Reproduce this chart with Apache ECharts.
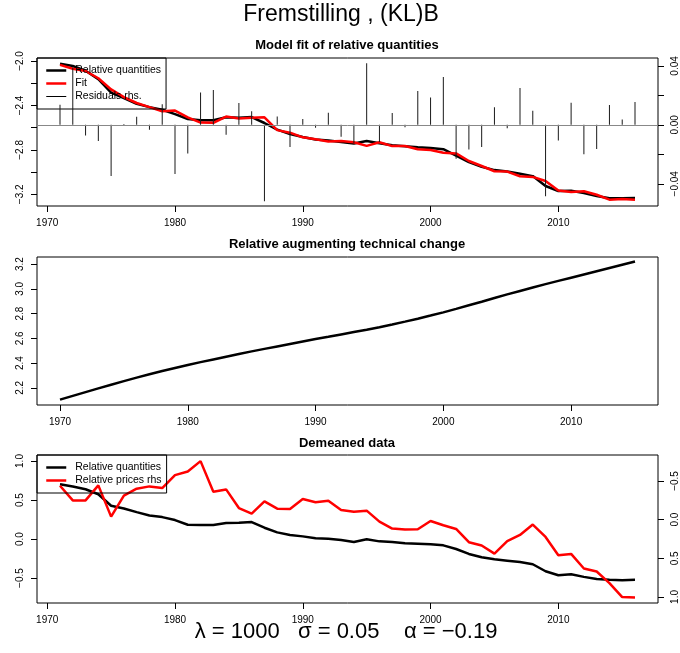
<!DOCTYPE html>
<html><head><meta charset="utf-8">
<script src="https://cdn.jsdelivr.net/npm/echarts@6/dist/echarts.min.js"></script>
<style>html,body{margin:0;padding:0;background:#fff}#c{width:680px;height:653px}</style>
</head><body><div id="c"></div>
<script>
const years = [1971,1972,1973,1974,1975,1976,1977,1978,1979,1980,1981,1982,1983,1984,1985,1986,1987,1988,1989,1990,1991,1992,1993,1994,1995,1996,1997,1998,1999,2000,2001,2002,2003,2004,2005,2006,2007,2008,2009,2010,2011,2012,2013,2014,2015,2016];
const relQty = [-2.024,-2.045,-2.087,-2.164,-2.284,-2.334,-2.385,-2.415,-2.439,-2.478,-2.522,-2.534,-2.534,-2.507,-2.510,-2.505,-2.558,-2.618,-2.657,-2.684,-2.707,-2.716,-2.728,-2.743,-2.720,-2.740,-2.758,-2.767,-2.776,-2.782,-2.794,-2.851,-2.910,-2.952,-2.982,-2.994,-3.015,-3.036,-3.125,-3.170,-3.167,-3.188,-3.215,-3.236,-3.236,-3.233];
const fitQty = [-2.035,-2.070,-2.090,-2.155,-2.255,-2.325,-2.378,-2.415,-2.452,-2.446,-2.508,-2.554,-2.556,-2.500,-2.518,-2.510,-2.507,-2.622,-2.645,-2.687,-2.705,-2.724,-2.720,-2.731,-2.764,-2.731,-2.766,-2.765,-2.795,-2.801,-2.825,-2.832,-2.900,-2.945,-2.992,-2.995,-3.037,-3.043,-3.080,-3.165,-3.180,-3.172,-3.204,-3.248,-3.243,-3.248];
const residuals = [0.0136,0.0390,-0.0073,-0.0110,-0.0348,0.0005,0.0055,-0.0034,0.0140,-0.0334,-0.0195,0.0220,0.0236,-0.0068,0.0148,0.0093,-0.0518,0.0057,-0.0150,0.0039,-0.0020,0.0082,-0.0080,-0.0123,0.0418,-0.0116,0.0080,-0.0016,0.0230,0.0186,0.0325,-0.0230,-0.0168,-0.0150,0.0120,-0.0023,0.0250,0.0095,-0.0484,-0.0107,0.0150,-0.0200,-0.0164,0.0134,0.0036,0.0155];
const techYears = [1970,1971,1972,1973,1974,1975,1976,1977,1978,1979,1980,1981,1982,1983,1984,1985,1986,1987,1988,1989,1990,1991,1992,1993,1994,1995,1996,1997,1998,1999,2000,2001,2002,2003,2004,2005,2006,2007,2008,2009,2010,2011,2012,2013,2014,2015];
const techChange = [2.105,2.136,2.166,2.196,2.226,2.255,2.283,2.310,2.336,2.361,2.385,2.408,2.430,2.452,2.474,2.495,2.515,2.535,2.555,2.575,2.595,2.613,2.632,2.651,2.670,2.690,2.712,2.735,2.759,2.784,2.810,2.838,2.867,2.896,2.926,2.955,2.983,3.011,3.038,3.064,3.090,3.116,3.142,3.168,3.194,3.220];
const demeanedQty = [0.702,0.672,0.638,0.574,0.426,0.391,0.345,0.302,0.281,0.243,0.183,0.179,0.179,0.204,0.209,0.217,0.145,0.085,0.051,0.034,0.009,0.004,-0.013,-0.038,-0.004,-0.030,-0.038,-0.055,-0.060,-0.068,-0.081,-0.128,-0.191,-0.234,-0.260,-0.277,-0.294,-0.323,-0.413,-0.464,-0.451,-0.485,-0.511,-0.523,-0.528,-0.523];
const relPrices = [-0.438,-0.249,-0.249,-0.443,-0.039,-0.310,-0.400,-0.430,-0.408,-0.576,-0.623,-0.757,-0.361,-0.391,-0.150,-0.077,-0.236,-0.142,-0.138,-0.267,-0.224,-0.245,-0.125,-0.103,-0.116,0.026,0.116,0.129,0.125,0.017,0.073,0.120,0.292,0.335,0.439,0.279,0.198,0.064,0.224,0.460,0.443,0.632,0.671,0.821,1.002,1.006];

const xTicks = [1970,1980,1990,2000,2010];
const topLeftTicks = [-3.2,-3.0,-2.8,-2.6,-2.4,-2.2,-2.0];
const topLeftLabels = [-3.2,-2.8,-2.4,-2.0];
const topRightTicks = [-0.04,-0.02,0,0.02,0.04];
const topRightLabels = [-0.04,0,0.04];
const midTicks = [2.2,2.4,2.6,2.8,3.0,3.2];
const botLeftTicks = [-0.5,0,0.5,1.0];
const botRightTicks = [-0.5,0,0.5,1.0];

const mainTitle = 'Fremstilling , (KL)B';
const panelTitles = ['Model fit of relative quantities','Relative augmenting technical change','Demeaned data'];
const footer = 'λ = 1000   σ = 0.05    α = −0.19';

const FONT = '"Liberation Sans", Arial, Helvetica, sans-serif';
const zip = (xs, ys) => xs.map((x, i) => [x, ys[i]]);
const fmt = d => v => (v < -1e-9 ? '−' : '') + Math.abs(v).toFixed(d);

function xAx(gi, min, max) {
  return {type:'value', gridIndex:gi, min:min, max:max,
    axisLine:{show:false, onZero:false},
    axisTick:{show:true, length:6, customValues:xTicks, lineStyle:{color:'#000', width:1}},
    axisLabel:{customValues:xTicks, margin:12, fontSize:10, color:'#000', fontFamily:FONT, formatter:v => String(Math.round(v))},
    splitLine:{show:false}};
}
function yAx(gi, pos, min, max, ticks, labels, f, inv) {
  return {type:'value', gridIndex:gi, position:pos, min:min, max:max, inverse:!!inv,
    axisLine:{show:false, onZero:false},
    axisTick:{show:true, length:6, customValues:ticks, lineStyle:{color:'#000', width:1}},
    axisLabel:{customValues:labels, rotate:90, margin:12, fontSize:10, color:'#000', fontFamily:FONT, formatter:f},
    splitLine:{show:false}};
}
const gridBase = {show:true, borderColor:'#000', borderWidth:1, backgroundColor:'transparent', left:37, width:621, height:148};
const titleStyle = (fs, fw) => ({fontSize:fs, fontWeight:fw, fontFamily:FONT, color:'#000', lineHeight:fs});
const noSym = {color:'rgba(0,0,0,0)', borderWidth:0, opacity:0};
const legendBase = {orient:'vertical', left:37, itemWidth:20, itemHeight:10, itemGap:2,
  padding:[7,5,7,8], borderColor:'#000', borderWidth:1, borderRadius:0, selectedMode:false,
  itemStyle:noSym,
  textStyle:{fontSize:10.5, color:'#000', fontFamily:FONT, padding:[0,0,0,4]}};

const chart = echarts.init(document.getElementById('c'), null, {renderer:'canvas'});
chart.setOption({
  animation:false,
  backgroundColor:'#fff',
  title:[
    {text:mainTitle, left:341, top:3, textAlign:'center', padding:0, textStyle:titleStyle(23,'normal')},
    {text:panelTitles[0], left:347, top:39, textAlign:'center', padding:0, textStyle:titleStyle(13,'bold')},
    {text:panelTitles[1], left:347, top:238, textAlign:'center', padding:0, textStyle:titleStyle(13,'bold')},
    {text:panelTitles[2], left:347, top:437, textAlign:'center', padding:0, textStyle:titleStyle(13,'bold')},
    {text:footer, left:346, top:621, textAlign:'center', padding:0, textStyle:titleStyle(22,'normal')}
  ],
  legend:[
    Object.assign({}, legendBase, {top:58, data:[
      {name:'Relative quantities', lineStyle:{width:2.5}, itemStyle:noSym},
      {name:'Fit', lineStyle:{width:2.5}, itemStyle:noSym},
      {name:'Residuals rhs.', lineStyle:{width:1}, itemStyle:noSym}]}),
    Object.assign({}, legendBase, {top:455, data:[
      {name:'Relative quantities', lineStyle:{width:2.5}, itemStyle:noSym},
      {name:'Relative prices rhs', lineStyle:{width:2.5}, itemStyle:noSym}]})
  ],
  grid:[
    Object.assign({}, gridBase, {top:58}),
    Object.assign({}, gridBase, {top:257}),
    Object.assign({}, gridBase, {top:455})
  ],
  xAxis:[ xAx(0, 1969.2, 2017.8), xAx(1, 1968.2, 2016.8), xAx(2, 1969.2, 2017.8) ],
  yAxis:[
    yAx(0,'left',-3.305,-1.973, topLeftTicks, topLeftLabels, fmt(1)),
    yAx(0,'right',-0.0551,0.0454, topRightTicks, topRightLabels, fmt(2)),
    yAx(1,'left',2.062,3.257, midTicks, midTicks, fmt(1)),
    yAx(2,'left',-0.82,1.077, botLeftTicks, botLeftTicks, fmt(1)),
    yAx(2,'right',-0.836,1.078, botRightTicks, botRightTicks, fmt(1), true)
  ],
  series:[
    {name:'Residuals rhs.', type:'line', xAxisIndex:0, yAxisIndex:1, data:[], symbol:'none',
      lineStyle:{color:'#000', width:1}, itemStyle:{color:'#000'}},
    {name:'Relative quantities', type:'line', xAxisIndex:0, yAxisIndex:0, data:zip(years, relQty),
      symbol:'none', lineStyle:{color:'#000', width:2.5}, itemStyle:{color:'#000'}, z:2},
    {name:'Fit', type:'line', xAxisIndex:0, yAxisIndex:0, data:zip(years, fitQty),
      symbol:'none', lineStyle:{color:'#ff0000', width:2.5}, itemStyle:{color:'#ff0000'}, z:3},
    {name:'Residuals rhs.', type:'bar', xAxisIndex:0, yAxisIndex:1, data:zip(years, residuals),
      barWidth:1, itemStyle:{color:'#1a1a1a'}, z:4,
      markLine:{silent:true, symbol:['none','none'], label:{show:false}, animation:false,
        lineStyle:{color:'#888', type:'solid', width:1}, data:[{yAxis:0}]}},
    {name:'Relative augmenting technical change', type:'line', xAxisIndex:1, yAxisIndex:2,
      data:zip(techYears, techChange), symbol:'none', lineStyle:{color:'#000', width:2.5}, itemStyle:{color:'#000'}},
    {name:'Relative quantities', type:'line', xAxisIndex:2, yAxisIndex:3, data:zip(years, demeanedQty),
      symbol:'none', lineStyle:{color:'#000', width:2.5}, itemStyle:{color:'#000'}},
    {name:'Relative prices rhs', type:'line', xAxisIndex:2, yAxisIndex:4, data:zip(years, relPrices),
      symbol:'none', lineStyle:{color:'#ff0000', width:2.5}, itemStyle:{color:'#ff0000'}}
  ]
});
</script></body></html>
